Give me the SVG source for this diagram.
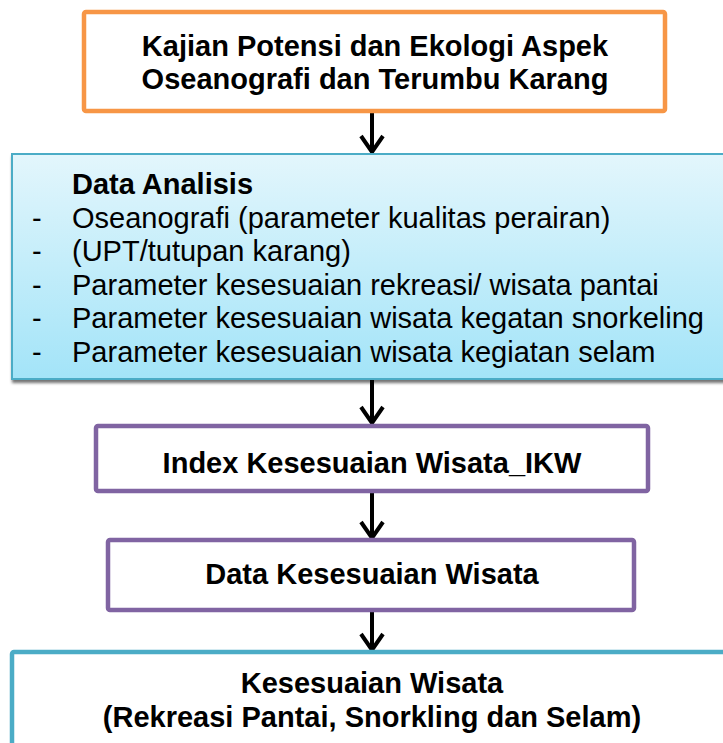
<svg xmlns="http://www.w3.org/2000/svg" width="723" height="743" viewBox="0 0 723 743">
<style>
.t{font-family:"Liberation Sans",Arial,sans-serif;font-size:29px;fill:#000}
.b{font-weight:bold}
.c{text-anchor:middle}
.orange{fill:#fff;stroke:#F79646;stroke-width:4.5}
.purple{fill:#fff;stroke:#8064A2;stroke-width:4.5}
.cyan{fill:url(#g);stroke:#4BACC6;stroke-width:2}
.cyan2{fill:#fff;stroke:#4BACC6;stroke-width:4.5}
.conn{fill:none;stroke:#000;stroke-width:4}
</style>
<defs>
<linearGradient id="g" x1="0" y1="0" x2="0" y2="1">
<stop offset="0" stop-color="#E3F6FC"/>
<stop offset="1" stop-color="#A3E4F8"/>
</linearGradient>
<filter id="sh" x="-5%" y="-5%" width="115%" height="120%">
<feDropShadow dx="1" dy="3" stdDeviation="1.8" flood-color="#000" flood-opacity="0.55"/>
</filter>
</defs>
<g id="connectors">
<path class="conn" d="M372,111 V152 M361,136 L372,152 L383,136"/>
<path class="conn" d="M372,380 V423 M361,407 L372,423 L383,407"/>
<path class="conn" d="M372,492 V538 M361,522 L372,538 L383,522"/>
<path class="conn" d="M372,611 V650 M361,634 L372,650 L383,634"/>
</g>
<g id="node-kajian">
<rect class="orange" x="84" y="12" width="581" height="99" rx="2"/>
<text class="t b c" x="375" y="56">Kajian Potensi dan Ekologi Aspek</text>
<text class="t b c" x="375" y="89">Oseanografi dan Terumbu Karang</text>
</g>
<g id="node-data-analisis">
<rect class="cyan" x="12" y="154" width="720" height="225" filter="url(#sh)"/>
<text class="t b" x="72" y="194">Data Analisis</text>
<text class="t" x="32" y="228">-</text><text class="t" x="72" y="228">Oseanografi (parameter kualitas perairan)</text>
<text class="t" x="32" y="261">-</text><text class="t" x="72" y="261">(UPT/tutupan karang)</text>
<text class="t" x="32" y="295">-</text><text class="t" x="72" y="295">Parameter kesesuaian rekreasi/ wisata pantai</text>
<text class="t" x="32" y="328">-</text><text class="t" x="72" y="328">Parameter kesesuaian wisata kegatan snorkeling</text>
<text class="t" x="32" y="362">-</text><text class="t" x="72" y="362">Parameter kesesuaian wisata kegiatan selam</text>
</g>
<g id="node-ikw">
<rect class="purple" x="96" y="426" width="552" height="65" rx="2"/>
<text class="t b c" x="372" y="473">Index Kesesuaian Wisata_IKW</text>
</g>
<g id="node-data-kesesuaian">
<rect class="purple" x="108" y="540" width="526" height="70" rx="2"/>
<text class="t b c" x="372" y="584">Data Kesesuaian Wisata</text>
</g>
<g id="node-kesesuaian">
<rect class="cyan2" x="12" y="652" width="730" height="110" rx="2"/>
<text class="t b c" x="372" y="693">Kesesuaian Wisata</text>
<text class="t b c" x="372" y="727">(Rekreasi Pantai, Snorkling dan Selam)</text>
</g>
</svg>
